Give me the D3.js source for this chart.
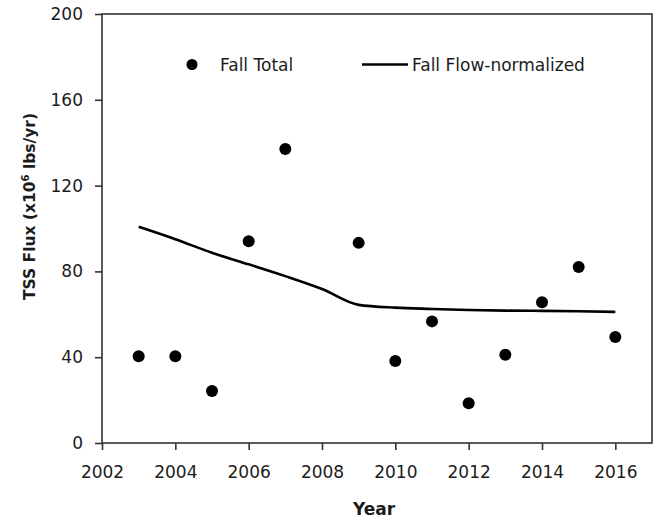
<!DOCTYPE html>
<html>
<head>
<meta charset="utf-8">
<script src="https://cdn.jsdelivr.net/npm/d3@7"></script>
<style>
  html, body { margin: 0; padding: 0; background: #fff; }
  svg { display: block; font-family: "DejaVu Sans", Verdana, sans-serif; }
</style>
</head>
<body>
<div id="chart"></div>
<script>
// ---------- data ----------
const totalYears = [2003, 2004, 2005, 2006, 2007, 2009, 2010, 2011, 2012, 2013, 2014, 2015, 2016];
const fallTotal  = [40.4, 40.4, 24.2, 94.1, 137.1, 93.3, 38.2, 56.7, 18.5, 41.1, 65.6, 82.0, 49.4];

const flowYears = [2003, 2004, 2005, 2006, 2007, 2008, 2009, 2010, 2011, 2012, 2013, 2014, 2015, 2016];
const fallFlowNormalized = [100.8, 95.0, 88.7, 83.3, 77.8, 71.8, 64.4, 63.1, 62.5, 62.0, 61.7, 61.6, 61.4, 61.1];

const xTicks = [2002, 2004, 2006, 2008, 2010, 2012, 2014, 2016];
const yTicks = [0, 40, 80, 120, 160, 200];

// ---------- layout ----------
const width = 662, height = 522;
const margin = { top: 14, right: 10, bottom: 79, left: 102 };

const svg = d3.select('#chart').append('svg')
  .attr('width', width)
  .attr('height', height);

const x = d3.scaleLinear().domain([2002, 2017]).range([margin.left, width - margin.right]);
const y = d3.scaleLinear().domain([0, 200]).range([height - margin.bottom, margin.top]);

const ink = '#1c1c1c';

// axes
const xAxis = svg.append('g')
  .attr('transform', `translate(0,${y(0)})`)
  .call(d3.axisBottom(x).tickValues(xTicks).tickFormat(d3.format('d')).tickSize(7).tickPadding(16));
const yAxis = svg.append('g')
  .attr('transform', `translate(${x(2002)},0)`)
  .call(d3.axisLeft(y).tickValues(yTicks).tickSize(7).tickPadding(12));

[xAxis, yAxis].forEach(g => {
  g.select('.domain').remove();
  g.selectAll('line').attr('stroke', '#333').attr('stroke-width', 1.6);
  g.selectAll('text')
    .attr('font-family', '"DejaVu Sans", Verdana, sans-serif')
    .attr('font-size', 17)
    .attr('fill', ink);
});

// plot frame
svg.append('rect')
  .attr('x', x(2002))
  .attr('y', y(200))
  .attr('width', x(2017) - x(2002))
  .attr('height', y(0) - y(200))
  .attr('fill', 'none')
  .attr('stroke', '#333')
  .attr('stroke-width', 1.6);

// flow-normalized line
const line = d3.line()
  .x((d, i) => x(flowYears[i]))
  .y(d => y(d))
  .curve(d3.curveMonotoneX);

svg.append('path')
  .datum(fallFlowNormalized)
  .attr('d', line)
  .attr('fill', 'none')
  .attr('stroke', '#000')
  .attr('stroke-width', 2.6);

// totals
svg.append('g').selectAll('circle')
  .data(fallTotal)
  .join('circle')
  .attr('cx', (d, i) => x(totalYears[i]))
  .attr('cy', d => y(d))
  .attr('r', 6)
  .attr('fill', '#000');

// ---------- legend ----------
const legend = svg.append('g').attr('font-size', 17).attr('fill', ink);
legend.append('circle').attr('cx', 192).attr('cy', 64.5).attr('r', 5.5).attr('fill', '#000');
legend.append('text').attr('x', 220).attr('y', 70.5).text('Fall Total');
legend.append('line')
  .attr('x1', 362).attr('x2', 408).attr('y1', 64.5).attr('y2', 64.5)
  .attr('stroke', '#000').attr('stroke-width', 2.6);
legend.append('text').attr('x', 412).attr('y', 70.5).text('Fall Flow-normalized');

// ---------- axis titles ----------
svg.append('text')
  .attr('x', (x(2002) + x(2017)) / 2 - 3)
  .attr('y', 515)
  .attr('text-anchor', 'middle')
  .attr('font-weight', 'bold')
  .attr('font-size', 17)
  .attr('fill', ink)
  .text('Year');

const yTitle = svg.append('text')
  .attr('transform', `translate(35,${(y(0) + y(200)) / 2 - 22}) rotate(-90)`)
  .attr('text-anchor', 'middle')
  .attr('font-weight', 'bold')
  .attr('font-size', 15.5)
  .attr('fill', ink);
yTitle.append('tspan').text('TSS Flux (x10');
yTitle.append('tspan').attr('font-size', 10).attr('dy', -6).text('6');
yTitle.append('tspan').attr('dy', 6).text(' lbs/yr)');
</script>
</body>
</html>
